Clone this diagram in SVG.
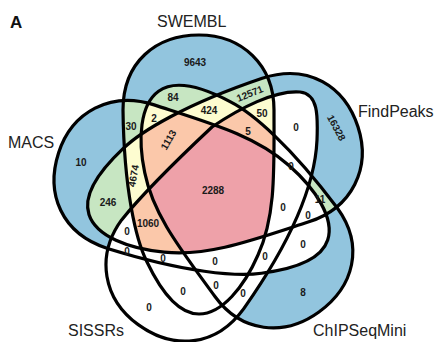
<svg xmlns="http://www.w3.org/2000/svg" xmlns:xlink="http://www.w3.org/1999/xlink" width="439" height="342" viewBox="0 0 439 342">
<style>
.n{font-family:"Liberation Sans",Arial,sans-serif;font-weight:bold;font-size:10px;text-anchor:middle;fill:#1a1a1a}
.t{font-family:"Liberation Sans",Arial,sans-serif;font-size:16px;fill:#222}
.ol{fill:none;stroke:#000;stroke-width:3.2}
.bl{fill:#92c5de}.gr{fill:#c7e6c2}.ye{fill:#fdfcd0}.or{fill:#fbc8aa}.pk{fill:#eea1a9}
</style>
<defs>
<path id="shp" d="M199,35 C242,35 274,65 274,110 C274,170 276,215 258,255 C244,287 222,314 199,314 C176,314 158,285 147,262 C136,240 124,190 123,110 C123,62 156,35 199,35 Z"/>
<path id="si" d="M138.2,324.6 C103.4,299.3 95.2,256.3 121.6,219.9 C140,197 180,157 212,127 C240,108 275,90 300,92 C318,94 318,115 317,140 C315,185 290,243 243.8,308.6 C215.6,347.5 173,349.9 138.2,324.6 Z"/>
<clipPath id="iS"><use xlink:href="#shp"/></clipPath>
<clipPath id="iF"><use xlink:href="#shp" transform="rotate(72 212.5 188.5) translate(0 314) scale(1 1.014) translate(0 -314)"/></clipPath>
<clipPath id="iC"><use xlink:href="#shp" transform="rotate(144 212.5 188.5) translate(0 -8.23) scale(1 0.978)"/></clipPath>
<clipPath id="iI"><use xlink:href="#si"/></clipPath>
<clipPath id="iM"><use xlink:href="#shp" transform="rotate(288 212.5 188.5) translate(0 314) scale(1 1.014) translate(0 -314)"/></clipPath>
<clipPath id="oS"><path clip-rule="evenodd" d="M-600,-600 H1100 V1100 H-600 Z M199,35 C242,35 274,65 274,110 C274,170 276,215 258,255 C244,287 222,314 199,314 C176,314 158,285 147,262 C136,240 124,190 123,110 C123,62 156,35 199,35 Z"/></clipPath>
<clipPath id="oF"><path clip-rule="evenodd" transform="rotate(72 212.5 188.5) translate(0 314) scale(1 1.014) translate(0 -314)" d="M-600,-600 H1100 V1100 H-600 Z M199,35 C242,35 274,65 274,110 C274,170 276,215 258,255 C244,287 222,314 199,314 C176,314 158,285 147,262 C136,240 124,190 123,110 C123,62 156,35 199,35 Z"/></clipPath>
<clipPath id="oC"><path clip-rule="evenodd" transform="rotate(144 212.5 188.5) translate(0 -8.23) scale(1 0.978)" d="M-600,-600 H1100 V1100 H-600 Z M199,35 C242,35 274,65 274,110 C274,170 276,215 258,255 C244,287 222,314 199,314 C176,314 158,285 147,262 C136,240 124,190 123,110 C123,62 156,35 199,35 Z"/></clipPath>
<clipPath id="oI"><path clip-rule="evenodd" d="M-600,-600 H1100 V1100 H-600 Z M138.2,324.6 C103.4,299.3 95.2,256.3 121.6,219.9 C140,197 180,157 212,127 C240,108 275,90 300,92 C318,94 318,115 317,140 C315,185 290,243 243.8,308.6 C215.6,347.5 173,349.9 138.2,324.6 Z"/></clipPath>
<clipPath id="oM"><path clip-rule="evenodd" transform="rotate(288 212.5 188.5) translate(0 314) scale(1 1.014) translate(0 -314)" d="M-600,-600 H1100 V1100 H-600 Z M199,35 C242,35 274,65 274,110 C274,170 276,215 258,255 C244,287 222,314 199,314 C176,314 158,285 147,262 C136,240 124,190 123,110 C123,62 156,35 199,35 Z"/></clipPath>
<rect id="full" x="0" y="0" width="439" height="342"/>
</defs>
<rect width="439" height="342" fill="#fff"/>
<g id="fills">
<g clip-path="url(#iS)"><g clip-path="url(#oF)"><g clip-path="url(#oC)"><g clip-path="url(#oI)"><g clip-path="url(#oM)"><use xlink:href="#full" class="bl"/></g></g></g></g></g>
<g clip-path="url(#oS)"><g clip-path="url(#iF)"><g clip-path="url(#oC)"><g clip-path="url(#oI)"><g clip-path="url(#oM)"><use xlink:href="#full" class="bl"/></g></g></g></g></g>
<g clip-path="url(#oS)"><g clip-path="url(#oF)"><g clip-path="url(#iC)"><g clip-path="url(#oI)"><g clip-path="url(#oM)"><use xlink:href="#full" class="bl"/></g></g></g></g></g>
<g clip-path="url(#oS)"><g clip-path="url(#oF)"><g clip-path="url(#oC)"><g clip-path="url(#oI)"><g clip-path="url(#iM)"><use xlink:href="#full" class="bl"/></g></g></g></g></g>
<g clip-path="url(#iS)"><g clip-path="url(#oF)"><g clip-path="url(#oC)"><g clip-path="url(#oI)"><g clip-path="url(#iM)"><use xlink:href="#full" class="gr"/></g></g></g></g></g>
<g clip-path="url(#iS)"><g clip-path="url(#iF)"><g clip-path="url(#oC)"><g clip-path="url(#oI)"><g clip-path="url(#oM)"><use xlink:href="#full" class="gr"/></g></g></g></g></g>
<g clip-path="url(#oS)"><g clip-path="url(#iF)"><g clip-path="url(#iC)"><g clip-path="url(#oI)"><g clip-path="url(#oM)"><use xlink:href="#full" class="gr"/></g></g></g></g></g>
<g clip-path="url(#iS)"><g clip-path="url(#oF)"><g clip-path="url(#iC)"><g clip-path="url(#oI)"><g clip-path="url(#oM)"><use xlink:href="#full" class="gr"/></g></g></g></g></g>
<g clip-path="url(#oS)"><g clip-path="url(#iF)"><g clip-path="url(#oC)"><g clip-path="url(#oI)"><g clip-path="url(#iM)"><use xlink:href="#full" class="gr"/></g></g></g></g></g>
<g clip-path="url(#iS)"><g clip-path="url(#oF)"><g clip-path="url(#iC)"><g clip-path="url(#oI)"><g clip-path="url(#iM)"><use xlink:href="#full" class="ye"/></g></g></g></g></g>
<g clip-path="url(#iS)"><g clip-path="url(#iF)"><g clip-path="url(#iC)"><g clip-path="url(#oI)"><g clip-path="url(#oM)"><use xlink:href="#full" class="ye"/></g></g></g></g></g>
<g clip-path="url(#iS)"><g clip-path="url(#iF)"><g clip-path="url(#oC)"><g clip-path="url(#iI)"><g clip-path="url(#oM)"><use xlink:href="#full" class="ye"/></g></g></g></g></g>
<g clip-path="url(#iS)"><g clip-path="url(#iF)"><g clip-path="url(#oC)"><g clip-path="url(#oI)"><g clip-path="url(#iM)"><use xlink:href="#full" class="ye"/></g></g></g></g></g>
<g clip-path="url(#iS)"><g clip-path="url(#iF)"><g clip-path="url(#iC)"><g clip-path="url(#oI)"><g clip-path="url(#iM)"><use xlink:href="#full" class="or"/></g></g></g></g></g>
<g clip-path="url(#iS)"><g clip-path="url(#iF)"><g clip-path="url(#iC)"><g clip-path="url(#iI)"><g clip-path="url(#oM)"><use xlink:href="#full" class="or"/></g></g></g></g></g>
<g clip-path="url(#iS)"><g clip-path="url(#iF)"><g clip-path="url(#oC)"><g clip-path="url(#iI)"><g clip-path="url(#iM)"><use xlink:href="#full" class="or"/></g></g></g></g></g>
<g clip-path="url(#iS)"><g clip-path="url(#iF)"><g clip-path="url(#iC)"><g clip-path="url(#iI)"><g clip-path="url(#iM)"><use xlink:href="#full" class="pk"/></g></g></g></g></g>
</g>
<g id="connectors"></g>
<g id="SWEMBL"><use xlink:href="#shp" class="ol"/><text class="t" x="157" y="27">SWEMBL</text></g>
<g id="FindPeaks"><use xlink:href="#shp" class="ol" transform="rotate(72 212.5 188.5) translate(0 314) scale(1 1.014) translate(0 -314)"/><text class="t" x="358" y="117">FindPeaks</text></g>
<g id="ChIPSeqMini"><use xlink:href="#shp" class="ol" transform="rotate(144 212.5 188.5) translate(0 -8.23) scale(1 0.978)"/><text class="t" x="313" y="336">ChIPSeqMini</text></g>
<g id="SISSRs"><use xlink:href="#si" class="ol"/><text class="t" x="68" y="336">SISSRs</text></g>
<g id="MACS"><use xlink:href="#shp" class="ol" transform="rotate(288 212.5 188.5) translate(0 314) scale(1 1.014) translate(0 -314)"/><text class="t" x="8" y="148">MACS</text></g>
<text x="10" y="28" style="font-family:'Liberation Sans',Arial,sans-serif;font-weight:bold;font-size:17px;fill:#111">A</text>
<g id="labels">
<text class="n" x="195" y="66">9643</text>
<text class="n" x="173" y="101">84</text>
<text class="n" x="131" y="130">30</text>
<text class="n" x="154" y="122">2</text>
<text class="n" x="209" y="114">424</text>
<text class="n" transform="rotate(-22 250 94)" x="250" y="97">12571</text>
<text class="n" x="262" y="117">50</text>
<text class="n" x="248" y="135">5</text>
<text class="n" transform="rotate(-60 169 140)" x="169" y="143">1113</text>
<text class="n" transform="rotate(-80 134 176)" x="134" y="179">4674</text>
<text class="n" x="81" y="166">10</text>
<text class="n" x="108" y="206">246</text>
<text class="n" x="148" y="227">1060</text>
<text class="n" x="213" y="194">2288</text>
<text class="n" transform="rotate(62 336 128)" x="336" y="131">16328</text>
<text class="n" x="296" y="131">0</text>
<text class="n" x="291" y="170">0</text>
<text class="n" x="283" y="211">0</text>
<text class="n" x="320" y="203">11</text>
<text class="n" x="308" y="219">0</text>
<text class="n" x="303" y="248">0</text>
<text class="n" x="303" y="296">8</text>
<text class="n" x="265" y="260">0</text>
<text class="n" x="215" y="265">0</text>
<text class="n" x="163" y="262">0</text>
<text class="n" x="127" y="255">0</text>
<text class="n" x="127" y="235">0</text>
<text class="n" x="183" y="295">0</text>
<text class="n" x="216" y="289">0</text>
<text class="n" x="243" y="297">0</text>
<text class="n" x="149" y="311">0</text>
</g>
</svg>
